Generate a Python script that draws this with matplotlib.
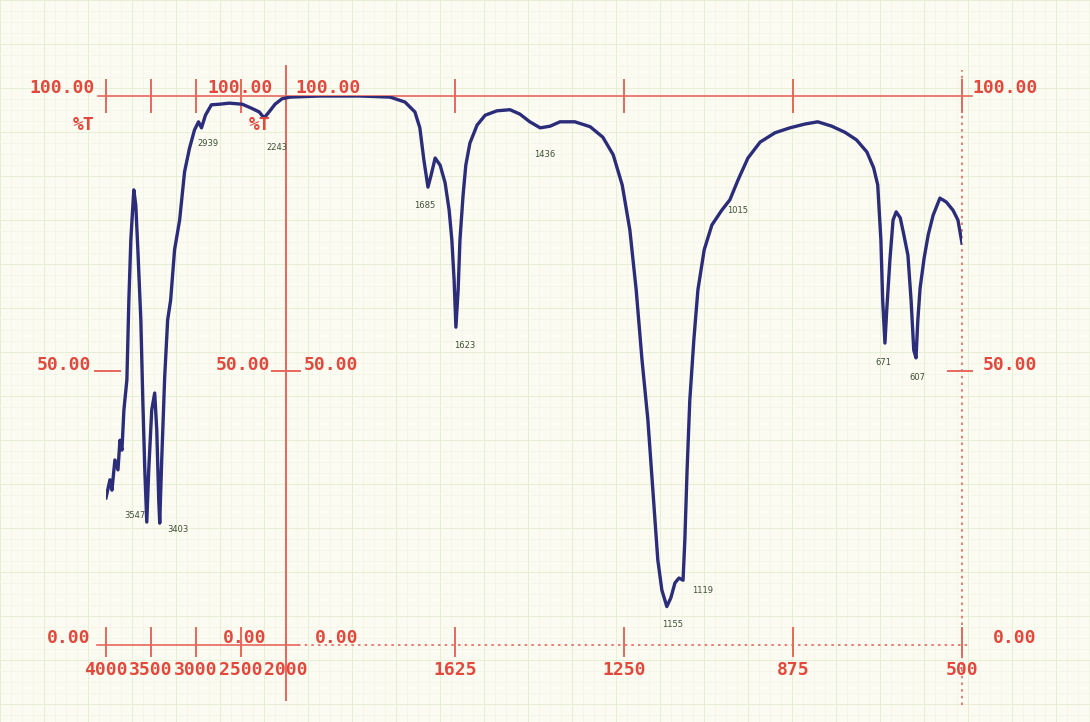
import numpy as np
import matplotlib.pyplot as plt

# IR spectrum: wavenumber (cm-1) and transmittance (%T)
wavenumber = [4000, 3956, 3934, 3901, 3867, 3845, 3823, 3801, 3768, 3746, 3724, 3691,
              3669, 3646, 3613, 3591, 3569, 3547, 3525, 3492, 3459, 3436, 3414, 3403,
              3381, 3348, 3315, 3282, 3238, 3182, 3127, 3072, 3017, 2972, 2939, 2895,
              2829, 2740, 2630, 2486, 2387, 2298, 2243, 2188, 2122, 2044,
              1991, 1925, 1836, 1769, 1736, 1714, 1703, 1694, 1685, 1678, 1669, 1658,
              1647, 1638, 1632, 1627, 1623, 1618, 1614, 1607, 1601, 1592, 1576, 1558,
              1532, 1503, 1481, 1459, 1436, 1414, 1392, 1359, 1325, 1297, 1274, 1254,
              1237, 1223, 1210, 1197, 1186, 1175, 1166, 1155, 1146, 1137, 1128, 1119,
              1115, 1110, 1104, 1095, 1086, 1072, 1055, 1033, 1015, 997, 975, 948,
              915, 882, 848, 820, 789, 760, 734, 711, 696, 687, 680, 676, 671, 667,
              660, 653, 646, 637, 629, 620, 613, 607, 602, 598, 593, 584, 575, 564,
              549, 535, 520, 509, 500]
transmittance = [26.8, 30.1, 28.2, 33.7, 31.9, 37.3, 35.5, 42.8, 48.3, 62.8, 73.8, 82.9,
                 80.1, 72.0, 59.2, 44.6, 31.9, 22.4, 31.9, 42.8, 45.9, 39.2, 26.4, 22.2,
                 33.7, 48.8, 59.2, 62.8, 72.0, 77.4, 86.2, 90.5, 93.8, 95.3, 94.2, 96.5,
                 98.4, 98.5, 98.7, 98.5, 97.8, 97.1, 96.0, 97.1, 98.5, 99.5,
                 99.8, 100.0, 100.0, 99.8, 98.9, 97.1, 94.2, 88.3, 83.4, 85.6, 88.7, 87.4,
                 84.2, 79.2, 73.8, 66.5, 57.9, 64.7, 73.8, 82.0, 87.4, 91.4, 94.7, 96.5,
                 97.3, 97.5, 96.7, 95.3, 94.2, 94.5, 95.3, 95.3, 94.4, 92.5, 89.3, 83.8,
                 75.6, 64.7, 51.9, 41.0, 28.2, 15.5, 10.0, 7.0, 8.6, 11.3, 12.2, 11.8,
                 19.1, 31.9, 44.6, 55.6, 64.7, 72.0, 76.5, 79.2, 81.1, 84.7, 88.7, 91.6,
                 93.3, 94.2, 94.9, 95.3, 94.5, 93.4, 92.0, 89.8, 86.9, 83.8, 73.8, 62.8,
                 55.0, 61.0, 70.1, 77.4, 78.9, 77.8, 74.7, 71.0, 62.8, 53.7, 52.3, 59.2,
                 65.0, 70.5, 74.7, 78.3, 81.4, 80.7, 79.2, 77.4, 73.2]

# peak marks printed next to the bands
peak_text = ["3547", "3403", "2939", "2243", "1685", "1623", "1436",
             "1155", "1119", "1015", "671", "607"]
peak_pos = [(3680, 23.5), (3204, 21.0), (2862, 91.4), (2099, 90.7), (1692, 80.1),
            (1603, 54.6), (1425, 89.3), (1143, 3.8), (1075, 10.0), (997, 79.2),
            (674, 51.5), (598, 48.8)]

left_ticks = [4000, 3500, 3000, 2500, 2000]
right_ticks = [1625, 1250, 875, 500]

W, H = 1090, 722
RED = "#e4473b"
RED_LINE = "#e8675c"


def fwd(w):
    return np.interp(w, [500, 2000, 4000], [0, 676, 856])


def inv(p):
    return np.interp(p, [0, 676, 856], [500, 2000, 4000])


def fx(px):
    # pixel column -> axes fraction
    return (px - 106) / 856


def fy(py):
    # pixel row -> axes fraction
    return (645 - py) / 549


def ftext(px, py, s, **kw):
    fig.text(px / W, 1 - py / H, s, ha="center", va="center", color=RED,
             family="DejaVu Sans Mono", weight="bold", fontsize=13, **kw)


fig = plt.figure(figsize=(W / 100, H / 100), dpi=100)
fig.patch.set_facecolor("#fbfbf1")

# chart paper grid
bg = fig.add_axes([0, 0, 1, 1], zorder=0)
bg.set_xlim(0, W)
bg.set_ylim(H, 0)
bg.set_xticks(np.arange(0, W, 44))
bg.set_yticks(np.arange(0, H, 44))
bg.set_xticks(np.arange(0, W, 11), minor=True)
bg.set_yticks(np.arange(0, H, 11), minor=True)
bg.grid(True, which="major", color="#e7eed6", lw=0.7)
bg.grid(True, which="minor", color="#f2f5e6", lw=0.5)
bg.tick_params(which="both", length=0, labelbottom=False, labelleft=False)
for s in bg.spines.values():
    s.set_visible(False)
bg.set_facecolor("#fbfbf1")

ax = fig.add_axes([106 / W, 1 - 645 / H, 856 / W, 549 / H], zorder=2)
ax.set_xscale("function", functions=(fwd, inv))
ax.set_xlim(4000, 500)
ax.set_ylim(0, 100)
ax.set_axis_off()

# red frame lines and ticks
ax.axhline(100, xmin=fx(98), xmax=fx(972), color=RED_LINE, lw=1.2, clip_on=False)
ax.axhline(0, xmin=fx(97), xmax=fx(298), color=RED_LINE, lw=1.2, clip_on=False)
ax.axhline(0, xmin=fx(298), xmax=fx(970), color=RED_LINE, lw=1.2, ls=(0, (1.5, 2.5)), clip_on=False)
ax.axvline(2000, ymin=fy(700), ymax=fy(66), color=RED_LINE, lw=1.4, clip_on=False)
ax.axvline(500, ymin=fy(705), ymax=fy(70), color=RED_LINE, lw=1.2, ls=(0, (1.5, 2.5)), clip_on=False)
for w in left_ticks + right_ticks:
    ax.axvline(w, ymin=fy(112), ymax=fy(80), color=RED_LINE, lw=1.4, clip_on=False)
    ax.axvline(w, ymin=fy(656), ymax=fy(628), color=RED_LINE, lw=1.4, clip_on=False)
for a, b in [(95, 120), (272, 300), (948, 972)]:
    ax.axhline(50, xmin=fx(a), xmax=fx(b), color=RED_LINE, lw=1.4, clip_on=False)

# spectrum
ax.plot(wavenumber, transmittance, color="#2b2c7a", lw=2.4, solid_joinstyle="round", zorder=3)

for (x, y), s in zip(peak_pos, peak_text):
    ax.text(x, y, s, ha="center", va="center", fontsize=6, color="#3f4f36", zorder=4)

# tick labels
for w in left_ticks + right_ticks:
    ax.text(w, -4.6, str(w), ha="center", va="center", color=RED,
            family="DejaVu Sans Mono", weight="bold", fontsize=13, clip_on=False)

# scale labels
for px in [62, 240, 328, 1005]:
    ftext(px, 88, "100.00")
for px in [64, 243, 331, 1010]:
    ftext(px, 365, "50.00")
for px in [69, 245, 337, 1015]:
    ftext(px, 638, "0.00")
ftext(84, 125, "%T")
ftext(260, 125, "%T")

fig.savefig("out.png", dpi=100, facecolor=fig.get_facecolor())
